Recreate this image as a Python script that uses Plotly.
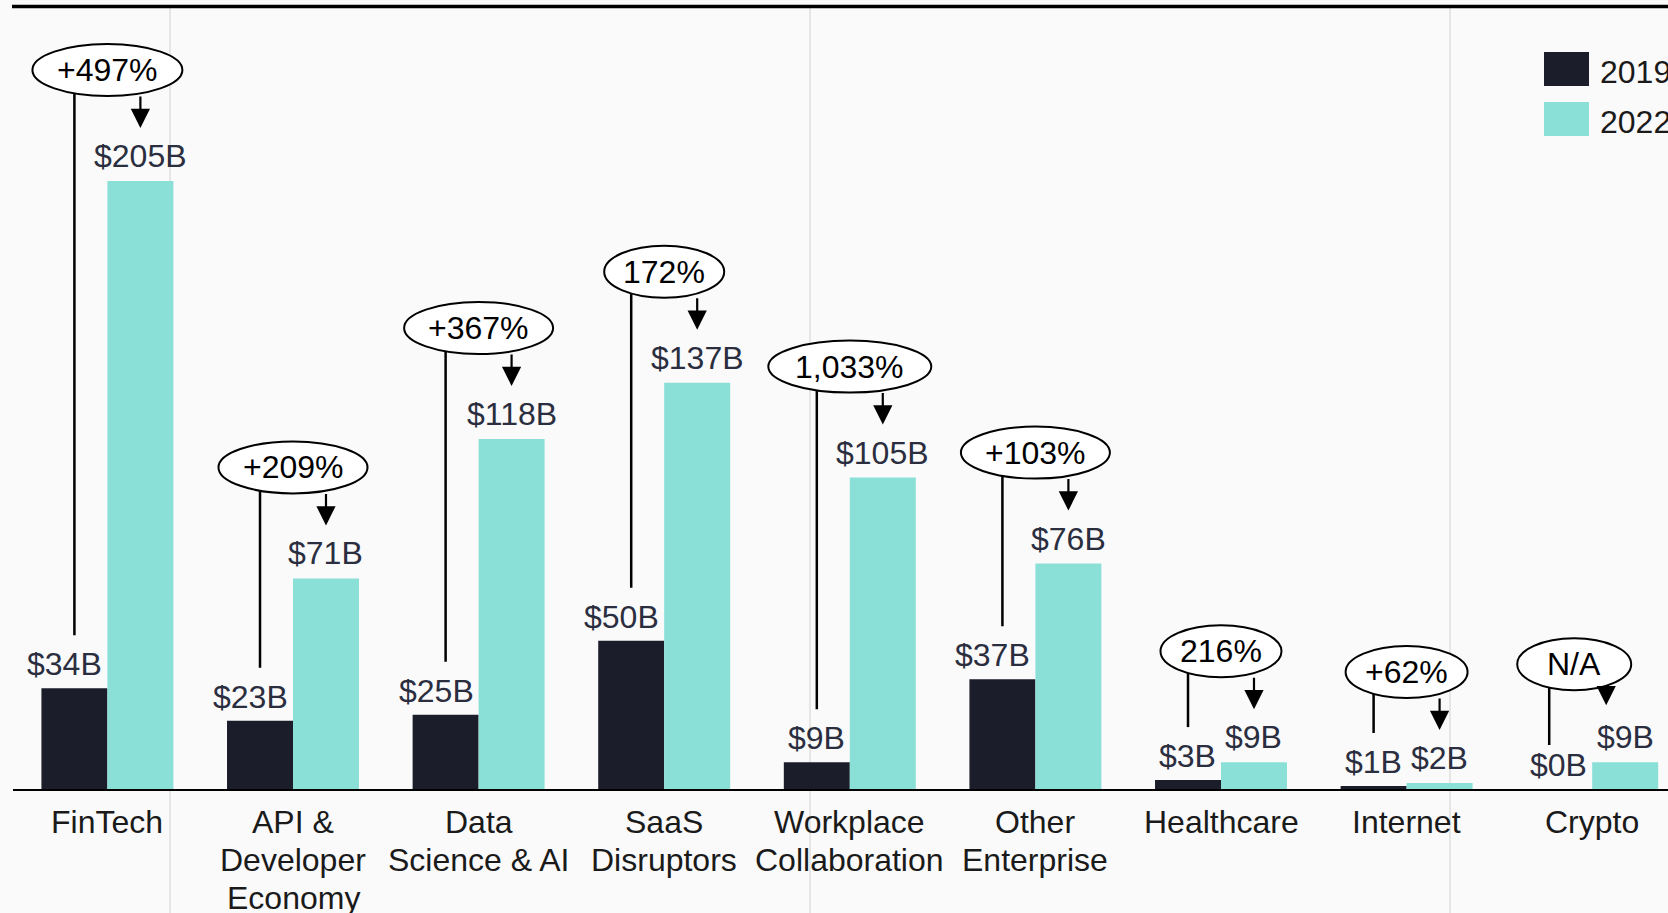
import plotly.graph_objects as go

# ---------------- data ----------------
categories = ["FinTech", "API &\nDeveloper\nEconomy", "Data\nScience & AI", "SaaS\nDisruptors",
              "Workplace\nCollaboration", "Other\nEnterprise", "Healthcare", "Internet", "Crypto"]
series_names = ["2019", "2022"]
values_2019 = [34, 23, 25, 50, 9, 37, 3, 1, 0]
values_2022 = [205, 71, 118, 137, 105, 76, 9, 2, 9]
growth_labels = ["+497%", "+209%", "+367%", "172%", "1,033%", "+103%", "216%", "+62%", "N/A"]

# ---------------- layout / style ----------------
W, H = 1668, 913
M_L, M_R, M_T, M_B = 13, 0, 7, 124
PLOT_W = W - M_L - M_R
PLOT_H = H - M_T - M_B
PX_PER_CAT = 185.6
FIRST_CENTER_PX = 107.4
X0 = -(FIRST_CENTER_PX - M_L) / PX_PER_CAT
X1 = X0 + PLOT_W / PX_PER_CAT
PX_PER_UNIT = 2.966
Y1 = PLOT_H / PX_PER_UNIT
BARGAP = 0.289
HALF = (1 - BARGAP) / 4  # offset of each bar's centre from the group centre

COL_2019 = "#1b1d2a"
COL_2022 = "#8ae0d6"
BG = "#fafafa"
FONT = "Liberation Sans, Arial, Helvetica, sans-serif"
LABEL_COL = "#2b2e3f"

ELLIPSE_W = {"+497%": 150, "+209%": 149, "+367%": 149, "172%": 120, "1,033%": 163,
             "+103%": 149, "216%": 121, "+62%": 122, "N/A": 114}
ELLIPSE_H = 52
CALLOUT_UP = 111      # px from top of taller bar to ellipse centre
GAP = 53              # px between bar top and end of connector
ADJ = {"Crypto": dict(dx=-18, dy=-13, arrow_dx=-19, arrow_gap=57, line_dx=-10, line_gap=44)}


def px2paper_x(px):
    return (px - M_L) / PLOT_W


def px2paper_y(py):
    return (H - M_B - py) / PLOT_H


idx = list(range(len(categories)))

fig = go.Figure()
fig.add_trace(go.Bar(x=idx, y=values_2019, name=series_names[0], marker_color=COL_2019,
                     marker_line_width=0, showlegend=False))
fig.add_trace(go.Bar(x=idx, y=values_2022, name=series_names[1], marker_color=COL_2022,
                     marker_line_width=0, showlegend=False))

shapes = []
annotations = []

# background vertical rules
for px in (170, 810, 1450):
    shapes.append(dict(type="line", xref="paper", yref="paper", layer="below",
                       x0=px2paper_x(px), x1=px2paper_x(px), y0=-M_B / PLOT_H - 0.01, y1=1,
                       line=dict(color="#e6e6e6", width=2)))

# top rule
shapes.append(dict(type="line", xref="paper", yref="paper", layer="above",
                   x0=px2paper_x(12), x1=1.02, y0=px2paper_y(6.5), y1=px2paper_y(6.5),
                   line=dict(color="black", width=3.5)))

for i, cat in enumerate(categories):
    v19, v22 = values_2019[i], values_2022[i]
    vmax = max(v19, v22)
    a = ADJ.get(cat.replace("\n", " "), {})
    dx = a.get("dx", 0) / PX_PER_CAT
    dy = a.get("dy", 0)
    centre_y = vmax + (CALLOUT_UP + dy) / PX_PER_UNIT

    # value labels
    annotations.append(dict(x=i, y=v19, xref="x", yref="y", text=f"${v19}B", showarrow=False,
                            xanchor="right", yanchor="middle", xshift=-3, yshift=24,
                            font=dict(size=32, color=LABEL_COL, family=FONT)))
    annotations.append(dict(x=i + HALF, y=v22, xref="x", yref="y", text=f"${v22}B", showarrow=False,
                            xanchor="center", yanchor="middle", yshift=25,
                            font=dict(size=32, color=LABEL_COL, family=FONT)))

    # connector line from 2019 label up to ellipse
    lx = i - HALF + a.get("line_dx", 0) / PX_PER_CAT
    shapes.append(dict(type="line", xref="x", yref="y", layer="above",
                       x0=lx, x1=lx, y0=v19 + a.get("line_gap", GAP) / PX_PER_UNIT, y1=centre_y,
                       line=dict(color="black", width=2.5)))
    # ellipse
    w = ELLIPSE_W.get(growth_labels[i], 140)
    shapes.append(dict(type="circle", xref="x", yref="y", layer="above",
                       xsizemode="pixel", xanchor=i + dx, x0=-w / 2, x1=w / 2,
                       y0=centre_y - ELLIPSE_H / 2 / PX_PER_UNIT, y1=centre_y + ELLIPSE_H / 2 / PX_PER_UNIT,
                       fillcolor="white", line=dict(color="black", width=2)))
    annotations.append(dict(x=i + dx, y=centre_y, xref="x", yref="y", text=growth_labels[i],
                            showarrow=False, xanchor="center", yanchor="middle", yshift=0,
                            font=dict(size=32, color="black", family=FONT)))
    # arrow down to 2022 label
    tip_gap = a.get("arrow_gap", GAP)
    ell_bottom_px = CALLOUT_UP + dy - ELLIPSE_H / 2 + (vmax - v22) * PX_PER_UNIT
    annotations.append(dict(x=i + HALF + a.get("arrow_dx", 0) / PX_PER_CAT, y=v22, xref="x", yref="y",
                            text="", showarrow=True, arrowhead=2, arrowsize=1.75, arrowwidth=2.2,
                            arrowcolor="black", ax=0, ay=-(ell_bottom_px - tip_gap + 1),
                            yshift=tip_gap, standoff=0))

    # category labels (one annotation per line for tight line spacing)
    for k, line in enumerate(cat.split("\n")):
        annotations.append(dict(x=i, y=0, xref="x", yref="y", text=line, showarrow=False,
                                xanchor="center", yanchor="middle", yshift=-33 - 38 * k,
                                font=dict(size=32, color="#1a1a1a", family=FONT)))

# legend
for j, (name, col) in enumerate(zip(series_names, [COL_2019, COL_2022])):
    top = 52 + 50 * j
    shapes.append(dict(type="rect", xref="paper", yref="paper", layer="above",
                       x0=px2paper_x(1544), x1=px2paper_x(1589),
                       y0=px2paper_y(top + 34), y1=px2paper_y(top), fillcolor=col, line_width=0))
    annotations.append(dict(x=px2paper_x(1598), y=px2paper_y(top + 20), xref="paper", yref="paper",
                            text=name, showarrow=False, xanchor="left", yanchor="middle",
                            font=dict(size=32, color="#1a1a1a", family=FONT)))

fig.update_layout(
    width=W, height=H,
    margin=dict(l=M_L, r=M_R, t=M_T, b=M_B, pad=0),
    paper_bgcolor=BG, plot_bgcolor="rgba(0,0,0,0)",
    barmode="group", bargap=BARGAP, bargroupgap=0,
    showlegend=False,
    xaxis=dict(range=[X0, X1], showticklabels=False, showgrid=False, zeroline=False,
               showline=True, linecolor="black", linewidth=2, ticks=""),
    yaxis=dict(range=[0, Y1], visible=False, showgrid=False, zeroline=False),
    shapes=shapes, annotations=annotations,
    font=dict(family=FONT),
)

fig.write_html("out.html", config={"displayModeBar": False},
               post_script="document.body.style.margin='0';")
